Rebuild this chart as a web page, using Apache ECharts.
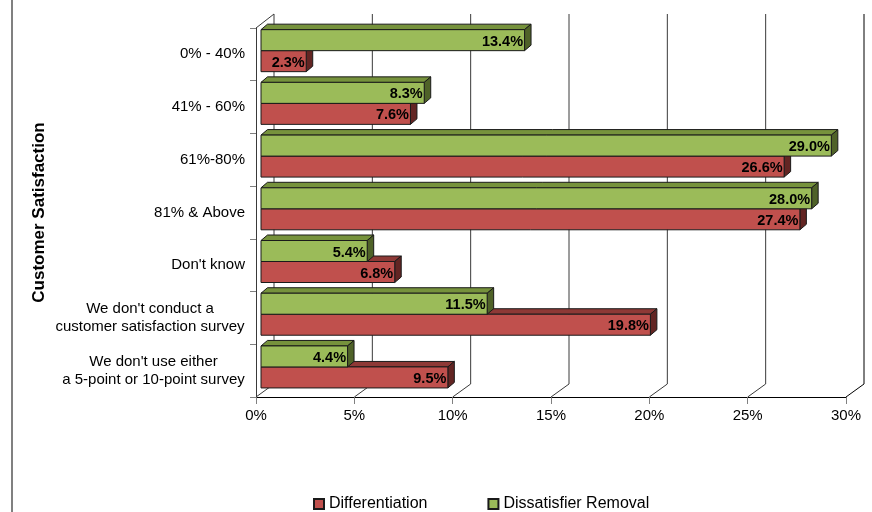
<!DOCTYPE html>
<html>
<head>
<meta charset="utf-8">
<style>
  html, body { margin: 0; padding: 0; background: #fff; }
  #chart { width: 872px; height: 512px; }
</style>
<script src="https://cdn.jsdelivr.net/npm/echarts@6/dist/echarts.min.js"></script>
</head>
<body>
<div id="chart"></div>
<script>
// Survey answers by customer satisfaction score
const categories = [
  '0% - 40%',
  '41% - 60%',
  '61%-80%',
  '81% & Above',
  "Don't know",
  "We don't conduct a\ncustomer satisfaction survey",
  "We don't use either\na 5-point or 10-point survey"
];
const differentiation = [2.3, 7.6, 26.6, 27.4, 6.8, 19.8, 9.5];
const dissatisfierRemoval = [13.4, 8.3, 29.0, 28.0, 5.4, 11.5, 4.4];
const xTicks = [0, 5, 10, 15, 20, 25, 30];

const FONT = '"Liberation Sans", Arial, sans-serif';
const LABEL_SIZE = 15;

// depth of the box (floor / wall offset) and of each bar
const WALL_DX = 18, WALL_DY = 13;
const BAR_SHIFT_X = 5, BAR_SHIFT_Y = -3.7;
const BAR_DX = 6.5, BAR_DY = 5.5;
const BAR_H = 21;

const palettes = {
  red:   { front: '#C0504D', top: '#8E3936', side: '#632523' },
  green: { front: '#9BBB59', top: '#76923C', side: '#4F6228' }
};

// Multi-line category labels: each line centred inside a block as wide as its longest line
const measureCtx = document.createElement('canvas').getContext('2d');
measureCtx.font = LABEL_SIZE + 'px ' + FONT;
const labelRich = {};
categories.forEach((c, i) => {
  const lines = c.split('\n');
  if (lines.length > 1) {
    const w = Math.max(...lines.map(l => measureCtx.measureText(l).width));
    labelRich['c' + i] = { width: Math.ceil(w), align: 'center', fontSize: LABEL_SIZE, lineHeight: 18, color: '#000', fontFamily: FONT };
  }
});
function categoryLabel(value, index) {
  const lines = value.split('\n');
  if (lines.length === 1) return value;
  return lines.map(l => '{c' + index + '|' + l + '}').join('\n');
}

// back wall grid lines with the floor diagonals
function renderWall(params, api) {
  const v = api.value(0);
  const cs = params.coordSys;
  const x = api.coord([v, 0])[0];
  const bottom = cs.y + cs.height;
  const top = cs.y;
  const color = v === 30 ? '#000' : '#3a3a3a';
  const children = [{
    type: 'polyline',
    shape: { points: [[x, bottom], [x + WALL_DX, bottom - WALL_DY], [x + WALL_DX, top - WALL_DY - 1]] },
    style: { stroke: color, lineWidth: 1, fill: null }
  }];
  if (v === 0) {
    children.push({
      type: 'line',
      shape: { x1: x, y1: top, x2: x + WALL_DX, y2: top - WALL_DY - 1 },
      style: { stroke: '#3a3a3a', lineWidth: 1 }
    });
  }
  return { type: 'group', children };
}

function makeBarRenderer(pal, upper) {
  return function (params, api) {
    const val = api.value(0);
    const cat = api.value(1);
    const base = api.coord([0, cat]);
    const end = api.coord([val, cat]);
    const cy = base[1] + BAR_SHIFT_Y;
    const yt = upper ? cy - BAR_H : cy;
    const x0 = base[0] + BAR_SHIFT_X;
    const x1 = end[0] + BAR_SHIFT_X;
    const stroke = '#1a1a1a';
    return {
      type: 'group',
      children: [
        {
          type: 'polygon',
          shape: { points: [[x0, yt], [x0 + BAR_DX, yt - BAR_DY], [x1 + BAR_DX, yt - BAR_DY], [x1, yt]] },
          style: { fill: pal.top, stroke: stroke, lineWidth: 1 }
        },
        {
          type: 'polygon',
          shape: { points: [[x1, yt], [x1 + BAR_DX, yt - BAR_DY], [x1 + BAR_DX, yt + BAR_H - BAR_DY], [x1, yt + BAR_H]] },
          style: { fill: pal.side, stroke: stroke, lineWidth: 1 }
        },
        {
          type: 'rect',
          shape: { x: x0, y: yt, width: x1 - x0, height: BAR_H },
          style: { fill: pal.front, stroke: stroke, lineWidth: 1 }
        },
        {
          type: 'text',
          style: {
            x: x1 - 1.5,
            y: yt + BAR_H / 2 + 1.5,
            text: val.toFixed(1) + '%',
            align: 'right',
            verticalAlign: 'middle',
            font: 'bold 14.5px ' + FONT,
            fill: '#000'
          }
        }
      ]
    };
  };
}

const chart = echarts.init(document.getElementById('chart'), null, { renderer: 'canvas' });

chart.setOption({
  animation: false,
  backgroundColor: '#fff',
  textStyle: { fontFamily: FONT },
  grid: { left: 256, right: 26, top: 28, bottom: 115, containLabel: false },
  xAxis: {
    type: 'value',
    min: 0,
    max: 30,
    interval: 5,
    axisLine: { show: true, lineStyle: { color: '#000', width: 1 } },
    axisTick: { show: true, length: 7, lineStyle: { color: '#808080' } },
    axisLabel: { formatter: '{value}%', fontSize: LABEL_SIZE, color: '#000', margin: 11, fontFamily: FONT },
    splitLine: { show: false }
  },
  yAxis: {
    type: 'category',
    data: categories,
    inverse: true,
    name: 'Customer Satisfaction',
    nameLocation: 'middle',
    nameGap: 208,
    nameMoveOverlap: false,
    nameRotate: 90,
    nameTextStyle: { fontSize: 17, fontWeight: 'bold', color: '#000', fontFamily: FONT },
    axisLine: { show: true, lineStyle: { color: '#3a3a3a', width: 1 } },
    axisTick: { show: true, length: 6, lineStyle: { color: '#808080' } },
    axisLabel: {
      fontSize: LABEL_SIZE, color: '#000', margin: 11, lineHeight: 18, align: 'right', fontFamily: FONT,
      formatter: categoryLabel,
      rich: labelRich
    },
    splitLine: { show: false }
  },
  legend: {
    left: 308,
    top: 491,
    icon: 'rect',
    itemWidth: 10,
    itemHeight: 10,
    itemGap: 60,
    textStyle: { fontSize: 16, color: '#000', fontFamily: FONT },
    data: ['Differentiation', 'Dissatisfier Removal']
  },
  graphic: [
    {
      type: 'line',
      shape: { x1: 12, y1: 0, x2: 12, y2: 512 },
      style: { stroke: '#808080', lineWidth: 2 },
      silent: true
    }
  ],
  series: [
    {
      name: 'wall',
      type: 'custom',
      renderItem: renderWall,
      data: xTicks.map(v => [v, 0]),
      encode: { x: 0, y: 1 },
      z: 1,
      silent: true,
      clip: false
    },
    {
      name: 'Differentiation',
      type: 'custom',
      renderItem: makeBarRenderer(palettes.red, false),
      data: differentiation.map((v, i) => [v, i]),
      encode: { x: 0, y: 1 },
      itemStyle: { color: palettes.red.front, borderColor: '#1a1a1a', borderWidth: 1 },
      z: 3,
      clip: false
    },
    {
      name: 'Dissatisfier Removal',
      type: 'custom',
      renderItem: makeBarRenderer(palettes.green, true),
      data: dissatisfierRemoval.map((v, i) => [v, i]),
      encode: { x: 0, y: 1 },
      itemStyle: { color: palettes.green.front, borderColor: '#1a1a1a', borderWidth: 1 },
      z: 4,
      clip: false
    }
  ]
});
</script>
</body>
</html>
